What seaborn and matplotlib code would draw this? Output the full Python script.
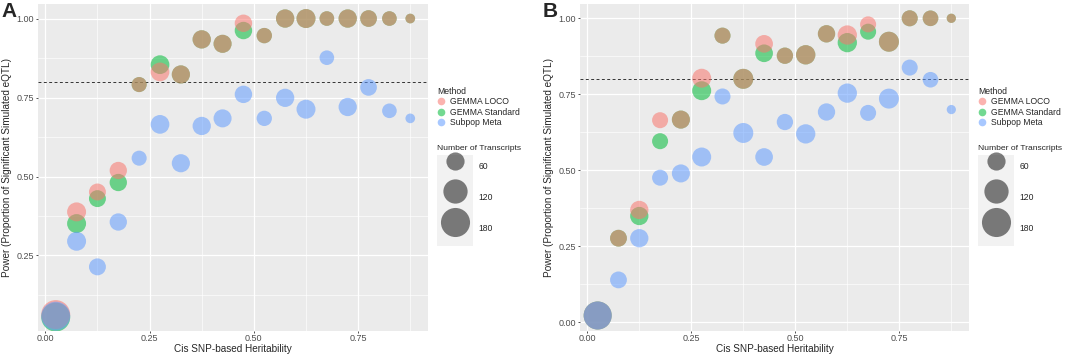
import pandas as pd
import seaborn as sns
import matplotlib.pyplot as plt
from matplotlib.lines import Line2D
from matplotlib.patches import Rectangle
from matplotlib.ticker import MultipleLocator

# heritability bins (bin centres)
h2_bins = [0.025, 0.075, 0.125, 0.175, 0.225, 0.275, 0.325, 0.375, 0.425,
           0.475, 0.525, 0.575, 0.625, 0.675, 0.725, 0.775, 0.825, 0.875]
methods = ["GEMMA LOCO", "GEMMA Standard", "Subpop Meta"]
size_ticks = [60, 120, 180]

# panel A
a_loco = [0.063, 0.388, 0.451, 0.519, 0.791, 0.831, 0.823, 0.934, 0.920,
          0.985, 0.946, 1.0, 1.0, 1.0, 1.0, 1.0, 1.0, 1.0]
a_std = [0.055, 0.351, 0.430, 0.481, 0.791, 0.854, 0.823, 0.934, 0.920,
         0.962, 0.946, 1.0, 1.0, 1.0, 1.0, 1.0, 1.0, 1.0]
a_meta = [0.058, 0.295, 0.214, 0.356, 0.558, 0.665, 0.542, 0.660, 0.684,
          0.760, 0.684, 0.749, 0.713, 0.876, 0.720, 0.782, 0.708, 0.684]
a_n = [178, 67, 50, 53, 36, 65, 60, 61, 59, 54, 38, 61, 67, 33, 61, 48, 33, 5]

# panel B
b_loco = [0.023, 0.277, 0.370, 0.665, 0.667, 0.803, 0.943, 0.801, 0.916,
          0.877, 0.880, 0.949, 0.945, 0.980, 0.923, 1.0, 1.0, 1.0]
b_std = [0.023, 0.277, 0.350, 0.596, 0.667, 0.762, 0.943, 0.801, 0.885,
         0.877, 0.880, 0.949, 0.920, 0.956, 0.923, 1.0, 1.0, 1.0]
b_meta = [0.023, 0.140, 0.277, 0.476, 0.490, 0.544, 0.743, 0.623, 0.544,
          0.659, 0.620, 0.692, 0.754, 0.689, 0.736, 0.838, 0.798, 0.700]
b_n = [166, 49, 61, 43, 59, 67, 43, 76, 56, 45, 70, 53, 70, 43, 76, 43, 40, 3]

palette = {"GEMMA LOCO": "#F8766D", "GEMMA Standard": "#00BA38",
           "Subpop Meta": "#619CFF"}
ALPHA = 0.55
SIZE_RANGE = (37.3, 483.2)   # marker area (pt^2) for n = 0 .. 200
SIZE_NORM = (0, 200)


def marker_pt(n):
    s = SIZE_RANGE[0] + (SIZE_RANGE[1] - SIZE_RANGE[0]) * (n - SIZE_NORM[0]) / (SIZE_NORM[1] - SIZE_NORM[0])
    return s ** 0.5


def make_frame(loco, std, meta, n):
    rows = []
    # standard drawn first, LOCO on top of it, meta last
    for method, vals in [("GEMMA Standard", std), ("GEMMA LOCO", loco), ("Subpop Meta", meta)]:
        for h, p, k in zip(h2_bins, vals, n):
            rows.append({"h2": h, "power": p, "method": method, "n": k})
    return pd.DataFrame(rows)


sns.set_theme(style="darkgrid", rc={
    "axes.facecolor": "#EBEBEB",
    "grid.color": "white",
    "axes.edgecolor": "#EBEBEB",
    "xtick.bottom": True, "ytick.left": True,
    "xtick.major.size": 1.6, "ytick.major.size": 1.6,
    "xtick.minor.size": 0, "ytick.minor.size": 0,
    "xtick.major.width": 0.6, "ytick.major.width": 0.6,
    "xtick.color": "#333333", "ytick.color": "#333333",
    "xtick.labelcolor": "#4D4D4D", "ytick.labelcolor": "#4D4D4D",
    "xtick.labelsize": 6.5, "ytick.labelsize": 6.5,
    "xtick.major.pad": 0.8, "ytick.major.pad": 1.2,
})
plt.rcParams["font.family"] = ["Liberation Sans", "DejaVu Sans"]

fig = plt.figure(figsize=(10.65, 3.55), dpi=100)
W, H = 1065, 355
axes_px = [(38, 4, 428, 331), (580, 4, 969, 331)]

panels = [
    ("A", make_frame(a_loco, a_std, a_meta, a_n), (0.011, 1.046), [0.25, 0.5, 0.75, 1.0]),
    ("B", make_frame(b_loco, b_std, b_meta, b_n), (-0.028, 1.047), [0.0, 0.25, 0.5, 0.75, 1.0]),
]

for (letter, df, ylim, yticks), (l, t, r, b) in zip(panels, axes_px):
    ax = fig.add_axes([l / W, 1 - b / H, (r - l) / W, (b - t) / H])
    ax.axhline(0.8, color="#333333", lw=0.7, ls=(0, (3, 2.5)), zorder=1)
    sns.scatterplot(data=df, x="h2", y="power", hue="method", hue_order=methods,
                    palette=palette, size="n", sizes=SIZE_RANGE, size_norm=SIZE_NORM,
                    alpha=ALPHA, linewidth=0, legend=False, ax=ax, zorder=3)
    ax.set_xlim(-0.0175, 0.9175)
    ax.set_ylim(*ylim)
    ax.set_xticks([0.0, 0.25, 0.5, 0.75])
    ax.set_xticklabels(["0.00", "0.25", "0.50", "0.75"])
    ax.set_yticks(yticks)
    ax.set_yticklabels([f"{v:.2f}" for v in yticks])
    ax.xaxis.set_minor_locator(MultipleLocator(0.125))
    ax.yaxis.set_minor_locator(MultipleLocator(0.125))
    ax.tick_params(which="minor", length=0)
    ax.grid(which="major", color="white", lw=0.9)
    ax.grid(which="minor", color="white", lw=0.45)
    for sp in ax.spines.values():
        sp.set_visible(False)
    ax.set_xlabel("Cis SNP-based Heritability", fontsize=7.2, labelpad=0.3)
    ax.set_ylabel("Power (Proportion of Significant Simulated eQTL)", fontsize=7.2, labelpad=3)

    # method legend
    mh = [Line2D([], [], marker="o", ls="", markersize=5.5, markeredgewidth=0,
                 markerfacecolor=palette[m], alpha=ALPHA) for m in methods]
    leg1 = ax.legend(mh, methods, title="Method", loc="upper left",
                     bbox_to_anchor=(1 + 9 / (r - l), (b - 87) / (b - t)),
                     frameon=False, fontsize=6.2, title_fontsize=6.2, alignment="left",
                     borderpad=0, labelspacing=0.15, handlelength=1.0,
                     handletextpad=0.5, borderaxespad=0)
    ax.add_artist(leg1)

    # size legend
    sh = [Line2D([], [], marker="o", ls="", markersize=marker_pt(n), markeredgewidth=0,
                 markerfacecolor="black", alpha=0.5) for n in size_ticks]
    ax.legend(sh, [str(n) for n in size_ticks], title="Number of Transcripts",
              loc="upper left", bbox_to_anchor=(1 + 9 / (r - l), (b - 145) / (b - t)),
              frameon=False, fontsize=6.2, title_fontsize=6.1, alignment="left",
              borderpad=0, labelspacing=0.0, handlelength=4.2, handleheight=5.1,
              handletextpad=0.6, borderaxespad=0)
    ax.add_patch(Rectangle((1 + 9 / (r - l), (b - 246) / (b - t)), 36 / (r - l), 91 / (b - t),
                           transform=ax.transAxes, facecolor="#F2F2F2", edgecolor="none",
                           clip_on=False, zorder=0))

    fig.text((l - 37) / W, 0.995, letter, fontsize=15, fontweight="bold", va="top", ha="left")

fig.savefig("out.png", dpi=100)
